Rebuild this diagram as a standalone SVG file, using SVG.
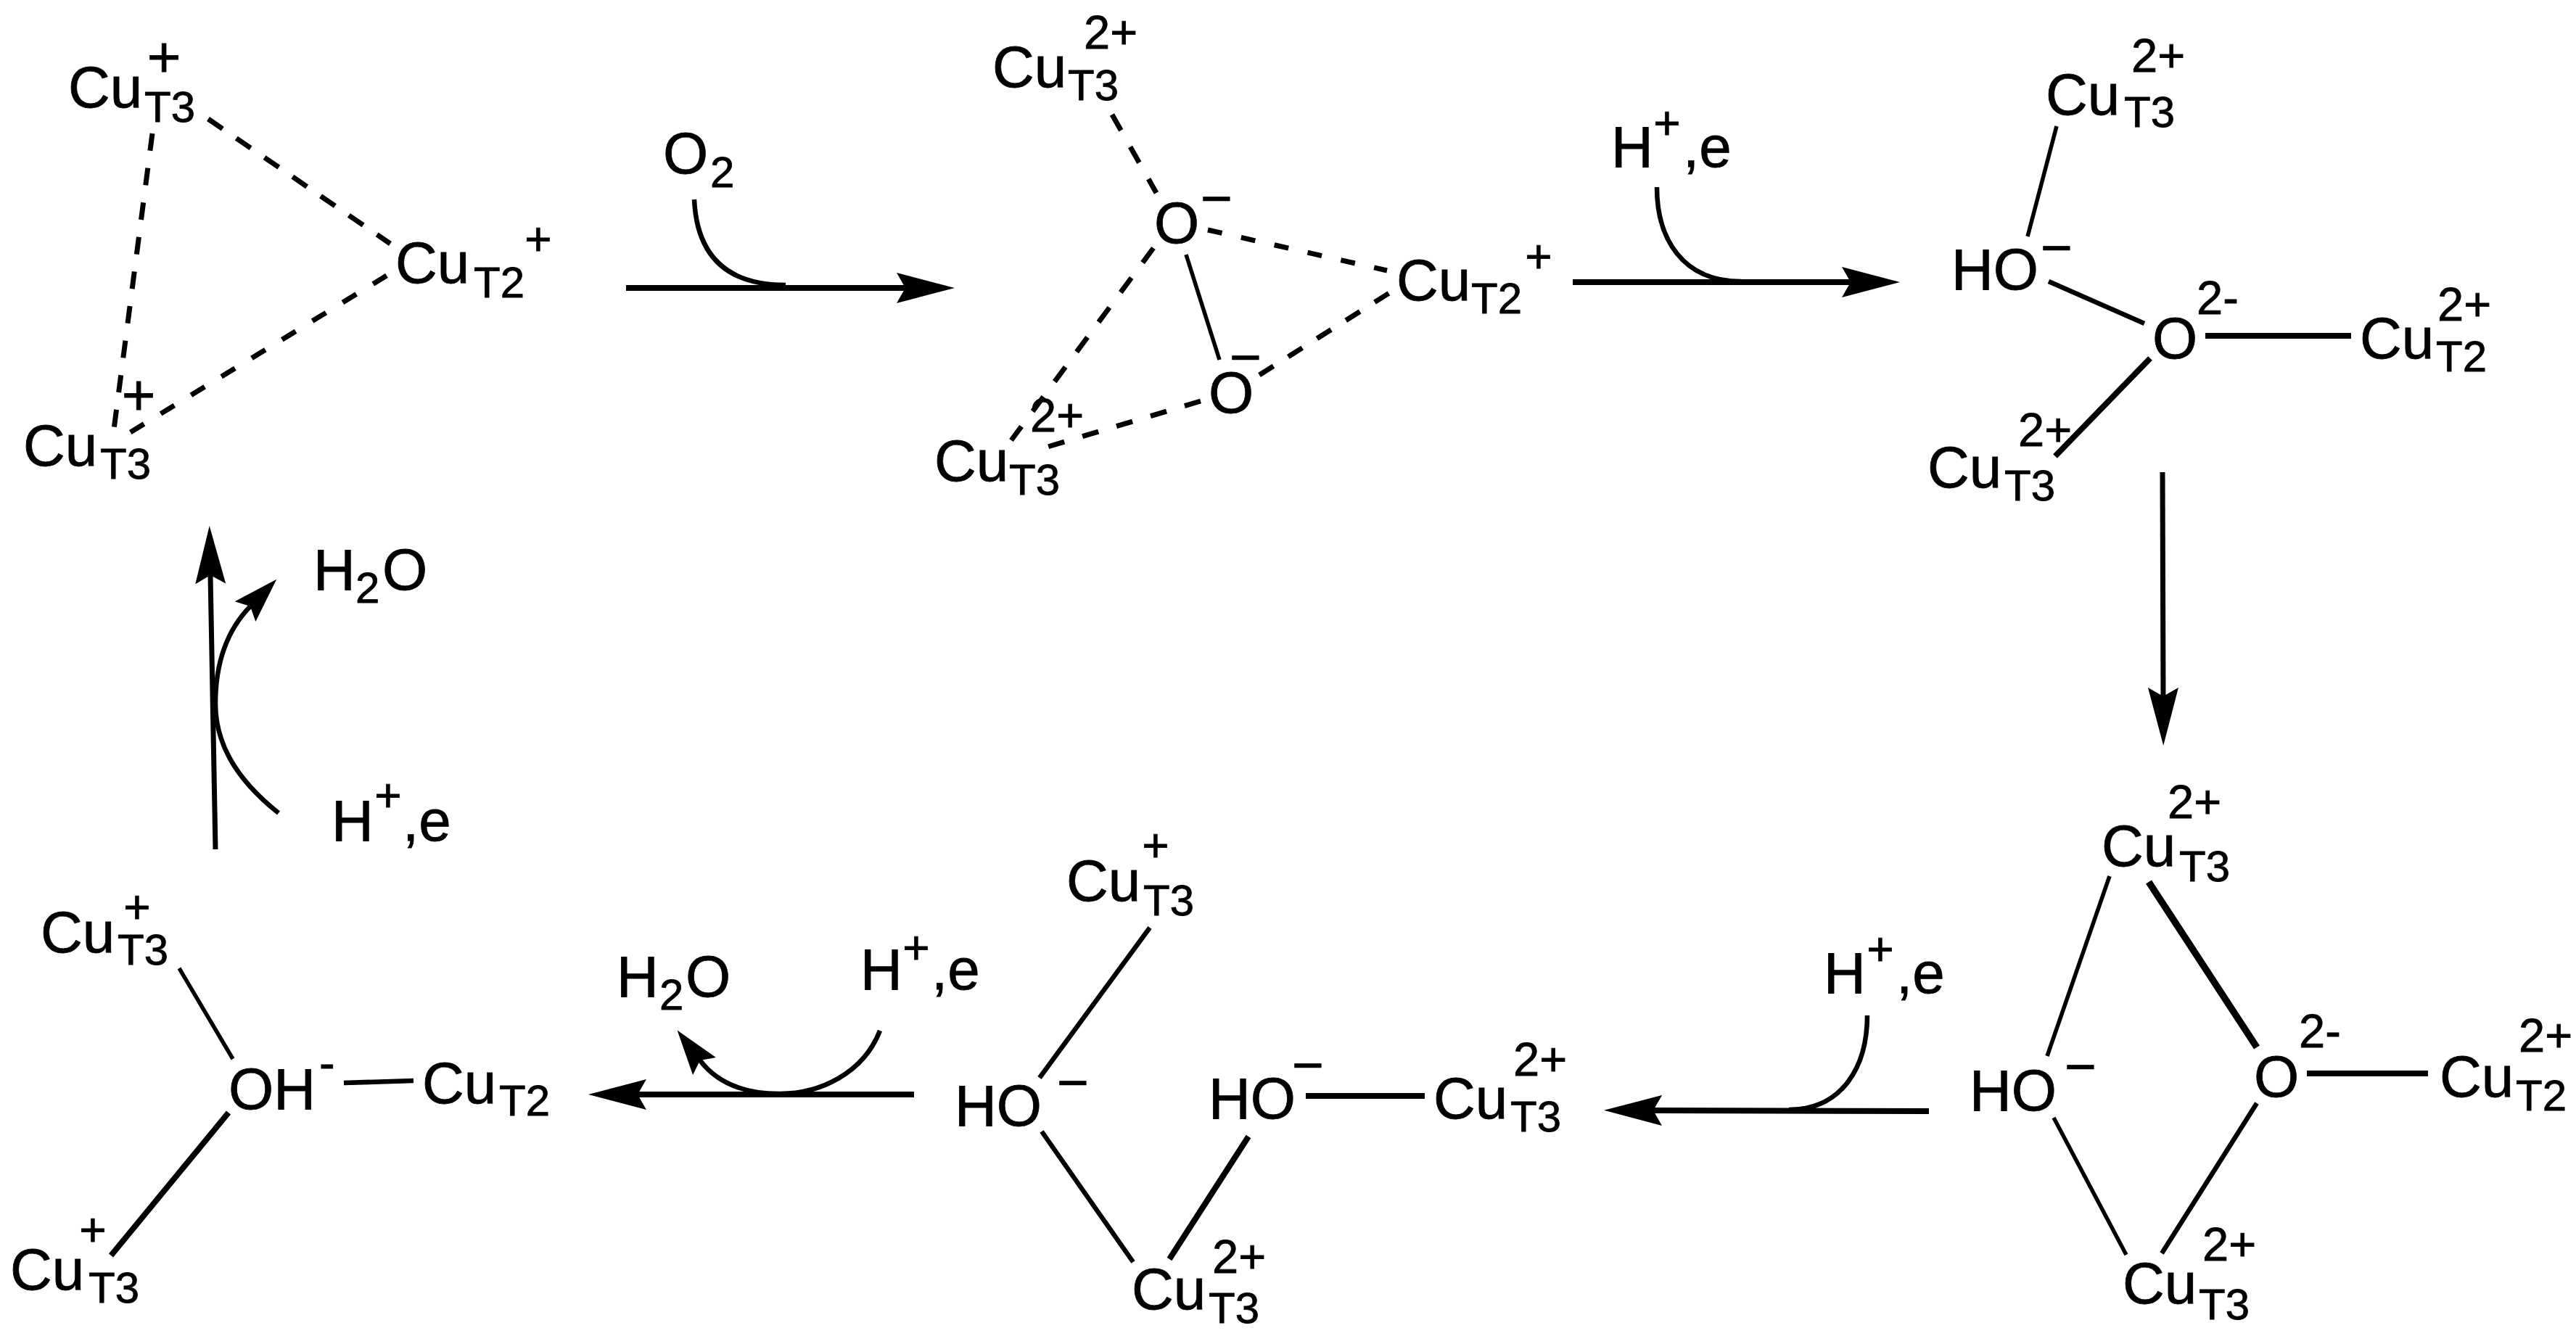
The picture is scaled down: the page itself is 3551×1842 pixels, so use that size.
<svg xmlns="http://www.w3.org/2000/svg" width="3551" height="1842" viewBox="0 0 3551 1842">
<style>
text{font-family:"Liberation Sans",Arial,sans-serif;fill:#000;stroke:#000;stroke-width:.8}
.m{font-size:80px}.s{font-size:60px}.p{font-size:65px}.q{font-size:80px;text-anchor:middle}.c{font-size:64px;text-anchor:middle}.n{font-size:75px;text-anchor:middle}
line,path.l{fill:none;stroke:#000;stroke-width:6.5}
.w5{stroke-width:5.5}.w8{stroke-width:8}.w9{stroke-width:9.5}
.d{stroke-width:7}
.arrow{stroke-width:8}
.v{stroke-width:7}
</style>
<defs>
<marker id="big" markerUnits="userSpaceOnUse" markerWidth="90" markerHeight="50" refX="12" refY="22" orient="auto"><path d="M0,1 L80,22 L0,43 L12,22 z" fill="#000"/></marker>
<marker id="small" markerUnits="userSpaceOnUse" markerWidth="75" markerHeight="50" refX="10" refY="21" orient="auto"><path d="M0,1 L62,21 L0,41 L10,21 z" fill="#000"/></marker>
</defs>
<g id="connectors">
<line class="d" x1="210" y1="184" x2="157" y2="592" stroke-dasharray="24 24"/>
<line class="d" x1="287" y1="164" x2="538" y2="336" stroke-dasharray="24 23"/>
<line class="d" x1="533" y1="380" x2="178" y2="597" stroke-dasharray="22 27"/>
<line class="d" x1="1533" y1="158" x2="1594" y2="266" stroke-dasharray="25 26"/>
<line class="d" x1="1665" y1="317" x2="1912" y2="373" stroke-dasharray="20 27"/>
<line class="d" x1="1590" y1="342" x2="1394" y2="607" stroke-dasharray="25 26"/>
<line class="w5" x1="1635" y1="351" x2="1681" y2="496"/>
<line class="d" x1="1736" y1="517" x2="1915" y2="404" stroke-dasharray="23 24"/>
<line class="d" x1="1655" y1="553" x2="1441" y2="617" stroke-dasharray="23 26"/>
<line class="w5" x1="2835" y1="174" x2="2795" y2="326"/>
<line x1="2824" y1="388" x2="2956" y2="446"/>
<line class="w8" x1="3040" y1="463" x2="3241" y2="463"/>
<line class="w8" x1="2964" y1="494" x2="2833" y2="629"/>
<line class="w5" x1="2908" y1="1208" x2="2822" y2="1456"/>
<line class="w9" x1="2962" y1="1216" x2="3111" y2="1444"/>
<line class="w8" x1="3180" y1="1480" x2="3347" y2="1480"/>
<line class="w5" x1="2831" y1="1541" x2="2931" y2="1730"/>
<line x1="3111" y1="1521" x2="2980" y2="1728"/>
<line x1="1585" y1="1279" x2="1433" y2="1486"/>
<line x1="1436" y1="1560" x2="1562" y2="1740"/>
<line class="w8" x1="1800" y1="1511" x2="1964" y2="1511"/>
<line class="w8" x1="1721" y1="1567" x2="1612" y2="1736"/>
<line class="w5" x1="247" y1="1335" x2="321" y2="1460"/>
<line x1="474" y1="1493" x2="570" y2="1490"/>
<line class="w8" x1="315" y1="1534" x2="153" y2="1731"/>
<line class="arrow" x1="863" y1="397" x2="1248" y2="397" marker-end="url(#big)"/>
<path class="l" d="M957 275 C960 340 990 393 1083 393"/>
<line class="arrow" x1="2168" y1="389" x2="2551" y2="389" marker-end="url(#big)"/>
<path class="l" d="M2284 258 C2284 330 2320 388 2400 388"/>
<line class="v" x1="2981" y1="651" x2="2982" y2="960" marker-end="url(#big)"/>
<line class="arrow" x1="2659" y1="1532" x2="2279" y2="1531" marker-end="url(#big)"/>
<path class="l" d="M2574 1400 C2574 1470 2540 1530 2466 1530"/>
<line class="arrow" x1="1260" y1="1509" x2="879" y2="1509" marker-end="url(#big)"/>
<path class="l" d="M1213 1421 C1190 1480 1130 1508 1075 1508 C1030 1508 990 1495 965 1462" marker-end="url(#small)"/>
<line class="v" x1="297" y1="1171" x2="290" y2="793" marker-end="url(#big)"/>
<path class="l" d="M384 1121 C320 1070 297 1020 297 970 C297 920 310 872 345 836" marker-end="url(#small)"/>
</g>
<g id="n1-cu-t3-top"><text class="m" x="94" y="148">Cu</text><text class="s" x="199" y="168">T3</text><text class="q" x="226" y="106">+</text></g>
<g id="n1-cu-t2"><text class="m" x="545" y="390">Cu</text><text class="s" x="653" y="410">T2</text><text class="c" x="742" y="352">+</text></g>
<g id="n1-cu-t3-low"><text class="m" x="32" y="642">Cu</text><text class="s" x="138" y="660">T3</text><text class="q" x="191" y="572">+</text></g>
<g id="o2-label"><text class="m" x="914" y="239">O</text><text class="s" x="979" y="258">2</text></g>
<g id="n2-cu-t3-top"><text class="m" x="1368" y="120">Cu</text><text class="s" x="1472" y="138">T3</text><text class="p" x="1494" y="67">2+</text></g>
<g id="n2-o-top"><text class="m" x="1591" y="335">O</text><text class="n" x="1677" y="299">−</text></g>
<g id="n2-o-low"><text class="m" x="1666" y="569">O</text><text class="n" x="1717" y="518">−</text></g>
<g id="n2-cu-t2"><text class="m" x="1925" y="414">Cu</text><text class="s" x="2028" y="432">T2</text><text class="c" x="2121" y="376">+</text></g>
<g id="n2-cu-t3-low"><text class="m" x="1288" y="663">Cu</text><text class="s" x="1391" y="682">T3</text><text class="p" x="1420" y="595">2+</text></g>
<g id="he-1"><text class="m" x="2221" y="230">H</text><text class="c" x="2298" y="192">+</text><text class="m" x="2320" y="230">,e</text></g>
<g id="n3-cu-t3-top"><text class="m" x="2820" y="158">Cu</text><text class="s" x="2928" y="175">T3</text><text class="p" x="2938" y="99">2+</text></g>
<g id="n3-ho"><text class="m" x="2690" y="399">HO</text><text class="n" x="2835" y="367">−</text></g>
<g id="n3-o"><text class="m" x="2967" y="494">O</text><text class="p" x="3028" y="433">2-</text></g>
<g id="n3-cu-t2"><text class="m" x="3253" y="494">Cu</text><text class="s" x="3358" y="512">T2</text><text class="p" x="3360" y="442">2+</text></g>
<g id="n3-cu-t3-low"><text class="m" x="2657" y="672">Cu</text><text class="s" x="2763" y="690">T3</text><text class="p" x="2782" y="615">2+</text></g>
<g id="n4-cu-t3-top"><text class="m" x="2897" y="1194">Cu</text><text class="s" x="3004" y="1215">T3</text><text class="p" x="2988" y="1128">2+</text></g>
<g id="n4-ho"><text class="m" x="2715" y="1531">HO</text><text class="n" x="2868" y="1496">−</text></g>
<g id="n4-o"><text class="m" x="3107" y="1512">O</text><text class="p" x="3169" y="1444">2-</text></g>
<g id="n4-cu-t2"><text class="m" x="3363" y="1512">Cu</text><text class="s" x="3468" y="1531">T2</text><text class="p" x="3472" y="1450">2+</text></g>
<g id="n4-cu-t3-low"><text class="m" x="2926" y="1797">Cu</text><text class="s" x="3031" y="1819">T3</text><text class="p" x="3036" y="1738">2+</text></g>
<g id="he-2"><text class="m" x="2514" y="1369">H</text><text class="c" x="2592" y="1331">+</text><text class="m" x="2614" y="1369">,e</text></g>
<g id="n5-cu-t3-top"><text class="m" x="1470" y="1242">Cu</text><text class="s" x="1576" y="1262">T3</text><text class="c" x="1593" y="1188">+</text></g>
<g id="n5-ho-left"><text class="m" x="1316" y="1552">HO</text><text class="n" x="1479" y="1518">−</text></g>
<g id="n5-ho-right"><text class="m" x="1666" y="1542">HO</text><text class="n" x="1803" y="1494">−</text></g>
<g id="n5-cu-t3-right"><text class="m" x="1976" y="1542">Cu</text><text class="s" x="2082" y="1560">T3</text><text class="p" x="2086" y="1483">2+</text></g>
<g id="n5-cu-t3-low"><text class="m" x="1560" y="1805">Cu</text><text class="s" x="1666" y="1824">T3</text><text class="p" x="1671" y="1755">2+</text></g>
<g id="he-3"><text class="m" x="1186" y="1364">H</text><text class="c" x="1263" y="1329">+</text><text class="m" x="1284" y="1364">,e</text></g>
<g id="h2o-1"><text class="m" x="850" y="1374">H</text><text class="s" x="909" y="1392">2</text><text class="m" x="945" y="1374">O</text></g>
<g id="n6-cu-t3-top"><text class="m" x="56" y="1313">Cu</text><text class="s" x="162" y="1330">T3</text><text class="c" x="189" y="1273">+</text></g>
<g id="n6-oh"><text class="m" x="315" y="1529">OH</text><text class="p" x="440" y="1488">-</text></g>
<g id="n6-cu-t2"><text class="m" x="582" y="1521">Cu</text><text class="s" x="688" y="1538">T2</text></g>
<g id="n6-cu-t3-low"><text class="m" x="14" y="1778">Cu</text><text class="s" x="122" y="1796">T3</text><text class="c" x="128" y="1718">+</text></g>
<g id="h2o-2"><text class="m" x="432" y="813">H</text><text class="s" x="490" y="831">2</text><text class="m" x="527" y="813">O</text></g>
<g id="he-4"><text class="m" x="457" y="1159">H</text><text class="c" x="535" y="1119">+</text><text class="m" x="555" y="1159">,e</text></g>
</svg>
